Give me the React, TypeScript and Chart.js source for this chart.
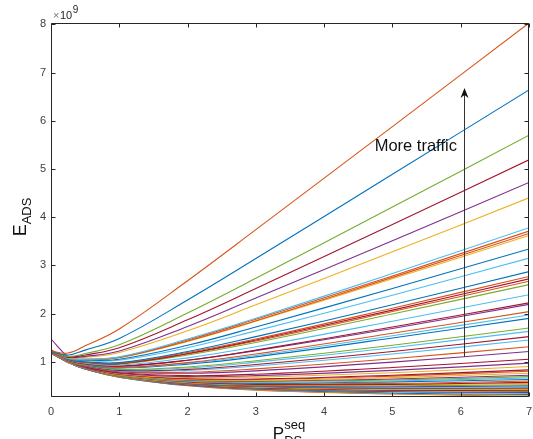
import React, { useEffect, useRef } from "react";
import { Chart, registerables } from "chart.js";

Chart.register(...registerables);

// ---- data (values in units of 10^9) ----
const X_VALUES = [0, 0.25, 0.5, 1, 2, 3, 5, 7];
const X_TICKS = [0, 1, 2, 3, 4, 5, 6, 7];
const Y_TICKS = [1, 2, 3, 4, 5, 6, 7, 8];
const X_MIN = 0;
const X_MAX = 7;
const Y_MIN = 0.267;
const Y_MAX = 8.03;

const BLUE = "#0072BD";
const ORANGE = "#D95319";
const YELLOW = "#EDB120";
const PURPLE = "#7E2F8E";
const GREEN = "#77AC30";
const CYAN = "#4DBEEE";
const RED = "#A2142F";

const SERIES_COLORS = [
  ORANGE, BLUE, GREEN, RED, PURPLE, YELLOW, CYAN, ORANGE, ORANGE, YELLOW,
  BLUE, CYAN, BLUE, ORANGE, RED, ORANGE, GREEN, CYAN, RED, PURPLE,
  ORANGE, CYAN, BLUE, GREEN, CYAN, RED, CYAN, ORANGE, PURPLE, RED,
  PURPLE, YELLOW, RED, ORANGE, YELLOW, PURPLE, GREEN, CYAN, BLUE, ORANGE,
  RED, YELLOW, GREEN, PURPLE, CYAN, BLUE, ORANGE, YELLOW, RED, GREEN,
  PURPLE, CYAN, BLUE, YELLOW, ORANGE, PURPLE,
];

const SERIES_VALUES: number[][] = [
  [1.22, 1.18, 1.33, 1.68, 2.68, 3.74, 5.88, 8.03],
  [1.21, 1.14, 1.24, 1.48, 2.28, 3.14, 4.89, 6.64],
  [1.20, 1.11, 1.17, 1.35, 2.01, 2.73, 4.21, 5.70],
  [1.23, 1.10, 1.14, 1.29, 1.87, 2.52, 3.85, 5.19],
  [1.19, 1.09, 1.11, 1.22, 1.73, 2.32, 3.51, 4.72],
  [1.21, 1.09, 1.09, 1.19, 1.64, 2.18, 3.28, 4.40],
  [1.22, 1.07, 1.05, 1.10, 1.47, 1.90, 2.83, 3.78],
  [1.18, 1.07, 1.05, 1.09, 1.45, 1.88, 2.78, 3.71],
  [1.24, 1.07, 1.05, 1.09, 1.43, 1.85, 2.75, 3.66],
  [1.20, 1.07, 1.04, 1.08, 1.42, 1.84, 2.72, 3.62],
  [1.22, 1.06, 1.03, 1.05, 1.34, 1.72, 2.52, 3.34],
  [1.19, 1.06, 1.02, 1.03, 1.29, 1.64, 2.38, 3.15],
  [1.25, 1.05, 1.00, 0.98, 1.21, 1.52, 2.18, 2.87],
  [1.21, 1.05, 0.99, 0.97, 1.19, 1.47, 2.11, 2.77],
  [1.20, 1.05, 0.99, 0.96, 1.17, 1.45, 2.07, 2.72],
  [1.23, 1.04, 0.99, 0.96, 1.16, 1.43, 2.04, 2.67],
  [1.18, 1.04, 0.98, 0.95, 1.14, 1.40, 1.99, 2.60],
  [1.22, 1.04, 0.97, 0.93, 1.08, 1.31, 1.84, 2.39],
  [1.20, 1.03, 0.96, 0.91, 1.03, 1.24, 1.72, 2.22],
  [1.24, 1.03, 0.96, 0.90, 1.03, 1.23, 1.69, 2.19],
  [1.19, 1.03, 0.95, 0.88, 0.98, 1.16, 1.59, 2.04],
  [1.21, 1.03, 0.95, 0.88, 0.97, 1.13, 1.54, 1.97],
  [1.20, 1.03, 0.94, 0.87, 0.95, 1.10, 1.49, 1.90],
  [1.23, 1.02, 0.93, 0.84, 0.89, 1.02, 1.34, 1.70],
  [1.18, 1.02, 0.93, 0.84, 0.87, 0.99, 1.29, 1.63],
  [1.22, 1.02, 0.92, 0.82, 0.84, 0.94, 1.21, 1.52],
  [1.20, 1.02, 0.92, 0.81, 0.82, 0.91, 1.16, 1.45],
  [1.25, 1.01, 0.91, 0.80, 0.78, 0.85, 1.06, 1.31],
  [1.19, 1.01, 0.90, 0.79, 0.76, 0.81, 0.99, 1.21],
  [1.21, 1.01, 0.89, 0.77, 0.71, 0.74, 0.88, 1.05],
  [1.23, 1.01, 0.89, 0.76, 0.69, 0.71, 0.82, 0.97],
  [1.20, 1.00, 0.89, 0.75, 0.67, 0.68, 0.77, 0.90],
  [1.22, 1.00, 0.88, 0.74, 0.65, 0.64, 0.72, 0.83],
  [1.19, 1.00, 0.88, 0.74, 0.64, 0.63, 0.70, 0.80],
  [1.24, 1.00, 0.88, 0.73, 0.63, 0.61, 0.67, 0.76],
  [1.21, 1.00, 0.88, 0.73, 0.62, 0.60, 0.64, 0.72],
  [1.18, 1.00, 0.87, 0.72, 0.61, 0.59, 0.62, 0.69],
  [1.22, 0.99, 0.87, 0.72, 0.60, 0.57, 0.60, 0.66],
  [1.20, 0.99, 0.87, 0.72, 0.60, 0.56, 0.58, 0.63],
  [1.23, 0.99, 0.87, 0.71, 0.59, 0.55, 0.55, 0.60],
  [1.17, 0.99, 0.87, 0.71, 0.58, 0.53, 0.53, 0.57],
  [1.21, 0.99, 0.87, 0.71, 0.57, 0.53, 0.52, 0.55],
  [1.19, 0.99, 0.86, 0.70, 0.57, 0.51, 0.50, 0.52],
  [1.22, 0.99, 0.86, 0.70, 0.56, 0.50, 0.48, 0.50],
  [1.20, 0.99, 0.86, 0.70, 0.56, 0.50, 0.47, 0.48],
  [1.24, 0.99, 0.86, 0.70, 0.55, 0.49, 0.45, 0.46],
  [1.18, 0.99, 0.86, 0.69, 0.54, 0.48, 0.44, 0.44],
  [1.21, 0.99, 0.86, 0.69, 0.54, 0.47, 0.43, 0.42],
  [1.20, 0.99, 0.86, 0.69, 0.53, 0.46, 0.41, 0.40],
  [1.22, 0.99, 0.86, 0.69, 0.53, 0.45, 0.40, 0.38],
  [1.19, 0.99, 0.85, 0.69, 0.52, 0.44, 0.38, 0.36],
  [1.21, 0.99, 0.85, 0.68, 0.52, 0.44, 0.37, 0.34],
  [1.20, 0.99, 0.85, 0.68, 0.51, 0.43, 0.35, 0.32],
  [1.23, 0.99, 0.85, 0.68, 0.51, 0.42, 0.34, 0.30],
  [1.19, 0.99, 0.85, 0.68, 0.50, 0.41, 0.33, 0.28],
  [1.47, 1.10, 0.90, 0.72, 0.57, 0.50, 0.45, 0.44],
];

// annotation (data coordinates)
const ANNOTATION_TEXT = "More traffic";
const ANNOTATION_X = 4.74;
const ANNOTATION_Y = 5.37;
const ARROW_X = 6.05;
const ARROW_Y_FROM = 1.1;
const ARROW_Y_TO = 6.68;

const FONT = "'Liberation Sans', Arial, Helvetica, sans-serif";
const AXIS_COLOR = "#262626";
const TICK_LABEL_COLOR = "#404040";

const decorPlugin = {
  id: "decor",
  afterDatasetsDraw(chart: any) {
    const { ctx, scales } = chart;
    const x = scales.x;
    const y = scales.y;
    ctx.save();
    // arrow
    const ax = Math.round(x.getPixelForValue(ARROW_X)) + 0.5;
    const y0 = y.getPixelForValue(ARROW_Y_FROM);
    const y1 = y.getPixelForValue(ARROW_Y_TO);
    ctx.strokeStyle = "#333333";
    ctx.lineWidth = 1;
    ctx.beginPath();
    ctx.moveTo(ax, y0);
    ctx.lineTo(ax, y1 + 6);
    ctx.stroke();
    ctx.fillStyle = "#111111";
    ctx.beginPath();
    ctx.moveTo(ax, y1);
    ctx.lineTo(ax - 4, y1 + 10);
    ctx.lineTo(ax, y1 + 7);
    ctx.lineTo(ax + 4, y1 + 10);
    ctx.closePath();
    ctx.fill();
    // text
    ctx.fillStyle = "#111111";
    ctx.font = `16.5px ${FONT}`;
    ctx.textAlign = "left";
    ctx.textBaseline = "alphabetic";
    ctx.fillText(ANNOTATION_TEXT, x.getPixelForValue(ANNOTATION_X), y.getPixelForValue(ANNOTATION_Y));
    ctx.restore();
  },
  afterDraw(chart: any) {
    const { ctx, chartArea, scales } = chart;
    const { left, right, top, bottom } = chartArea;
    const x = scales.x;
    const y = scales.y;
    ctx.save();
    ctx.strokeStyle = AXIS_COLOR;
    ctx.lineWidth = 1;
    const L = Math.round(left) + 0.5;
    const R = Math.round(right) - 0.5;
    const T = Math.round(top) + 0.5;
    const B = Math.round(bottom) - 0.5;
    ctx.beginPath();
    ctx.rect(L, T, R - L, B - T);
    ctx.stroke();
    const tl = 4;
    ctx.beginPath();
    for (const v of X_TICKS) {
      const px = Math.round(x.getPixelForValue(v)) + 0.5;
      ctx.moveTo(px, B);
      ctx.lineTo(px, B - tl);
      ctx.moveTo(px, T);
      ctx.lineTo(px, T + tl);
    }
    for (const v of Y_TICKS) {
      const py = Math.round(y.getPixelForValue(v)) + 0.5;
      ctx.moveTo(L, py);
      ctx.lineTo(L + tl, py);
      ctx.moveTo(R, py);
      ctx.lineTo(R - tl, py);
    }
    ctx.stroke();

    // exponent label
    ctx.textBaseline = "alphabetic";
    ctx.textAlign = "left";
    ctx.fillStyle = "#777777";
    ctx.font = `11px ${FONT}`;
    ctx.fillText("\u00d7", left + 2, top - 4);
    ctx.fillStyle = AXIS_COLOR;
    ctx.fillText("10", left + 9, top - 4);
    const w10 = ctx.measureText("10").width;
    ctx.font = `10px ${FONT}`;
    ctx.fillText("9", left + 9 + w10 + 0.5, top - 10);

    // y axis title E_ADS
    ctx.save();
    ctx.translate(26, 217);
    ctx.rotate(-Math.PI / 2);
    ctx.fillStyle = "#111111";
    ctx.font = `18px ${FONT}`;
    const wE = ctx.measureText("E").width;
    ctx.font = `13px ${FONT}`;
    const wADS = ctx.measureText("ADS").width;
    const start = -(wE + wADS) / 2;
    ctx.font = `18px ${FONT}`;
    ctx.fillText("E", start, 0);
    ctx.font = `13px ${FONT}`;
    ctx.fillText("ADS", start + wE, 5);
    ctx.restore();

    // x axis title P^seq_DS
    ctx.fillStyle = "#111111";
    ctx.font = `17px ${FONT}`;
    const wP = ctx.measureText("P").width;
    ctx.font = `13px ${FONT}`;
    const wSeq = ctx.measureText("seq").width;
    const cx = (left + right) / 2;
    const sx = cx - (wP + wSeq) / 2 - 1;
    const baseY = 439;
    ctx.font = `17px ${FONT}`;
    ctx.fillText("P", sx, baseY);
    ctx.font = `13px ${FONT}`;
    ctx.fillText("seq", sx + wP, baseY - 10);
    ctx.fillText("DS", sx + wP, baseY + 6);
    ctx.restore();
  },
};

export default function App() {
  const canvasRef = useRef<HTMLCanvasElement | null>(null);

  useEffect(() => {
    const canvas = canvasRef.current;
    if (!canvas) return;
    const datasets = SERIES_VALUES.map((vals, i) => ({
      data: vals.map((v, j) => ({ x: X_VALUES[j], y: v })),
      borderColor: SERIES_COLORS[i % SERIES_COLORS.length],
      backgroundColor: SERIES_COLORS[i % SERIES_COLORS.length],
      borderWidth: 1.1,
      pointRadius: 0,
      fill: false,
      tension: 0.4,
    }));
    const chart = new Chart(canvas, {
      type: "line",
      data: { datasets },
      options: {
        responsive: false,
        animation: false,
        devicePixelRatio: 1,
        layout: { padding: { left: 0, top: 23, right: 4, bottom: 0 } },
        plugins: { legend: { display: false }, tooltip: { enabled: false } },
        scales: {
          x: {
            type: "linear",
            min: X_MIN,
            max: X_MAX,
            grid: { display: false, drawTicks: false },
            border: { display: false },
            ticks: {
              padding: 8,
              color: TICK_LABEL_COLOR,
              font: { family: FONT, size: 11 },
              autoSkip: false,
              maxRotation: 0,
            },
            afterBuildTicks: (s: any) => {
              s.ticks = X_TICKS.map((v) => ({ value: v }));
            },
            afterFit: (s: any) => {
              s.height = 42;
              s.paddingLeft = 0;
              s.paddingRight = 0;
            },
          },
          y: {
            type: "linear",
            min: Y_MIN,
            max: Y_MAX,
            grid: { display: false, drawTicks: false },
            border: { display: false },
            ticks: {
              padding: 5,
              color: TICK_LABEL_COLOR,
              font: { family: FONT, size: 11 },
              autoSkip: false,
            },
            afterBuildTicks: (s: any) => {
              s.ticks = Y_TICKS.map((v) => ({ value: v }));
            },
            afterFit: (s: any) => {
              s.width = 51;
              s.paddingTop = 0;
              s.paddingBottom = 0;
            },
          },
        },
      },
      plugins: [decorPlugin],
    } as any);
    return () => chart.destroy();
  }, []);

  return (
    <div style={{ position: "absolute", left: 0, top: 0, width: 533, height: 439, overflow: "hidden", background: "#fff" }}>
      <canvas ref={canvasRef} width={533} height={439} style={{ display: "block" }} />
    </div>
  );
}
